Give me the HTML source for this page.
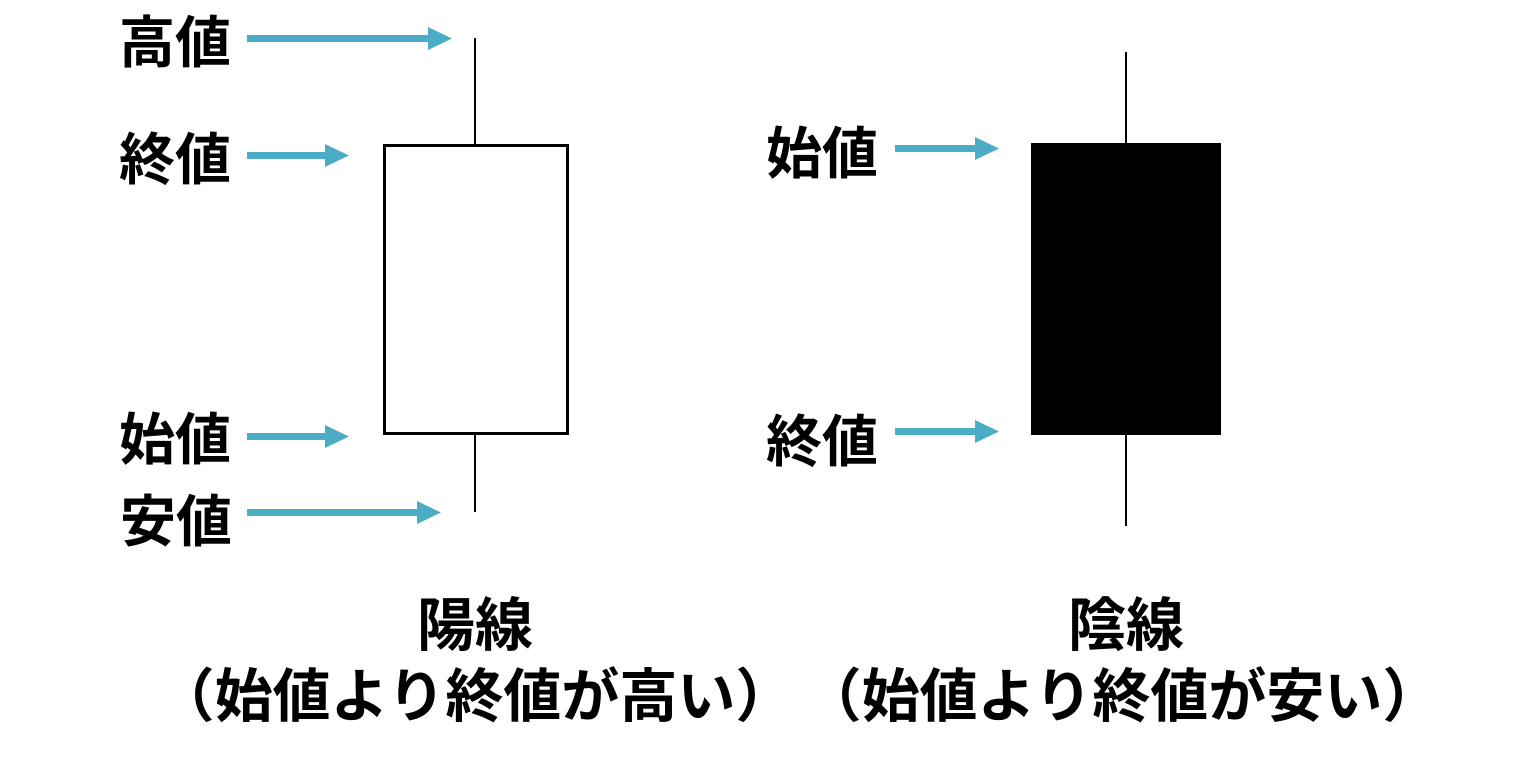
<!DOCTYPE html>
<html><head><meta charset="utf-8"><style>
html,body{margin:0;padding:0;background:#fff;}
svg{display:block;}
text{font-family:"Liberation Sans","Noto Sans CJK JP",sans-serif;font-weight:bold;fill:#000;}
</style></head><body>
<svg width="1536" height="766" viewBox="0 0 1536 766" xmlns="http://www.w3.org/2000/svg">
<line x1="475" y1="38" x2="475" y2="512" stroke="#000" stroke-width="2"/>
<rect x="384.5" y="145.5" width="183" height="288" fill="#fff" stroke="#000" stroke-width="3"/>
<line x1="1126" y1="52" x2="1126" y2="526" stroke="#000" stroke-width="2"/>
<rect x="1031" y="143" width="190" height="292" fill="#000"/>

<g fill="#4bacc6">
<rect x="247" y="35" width="183" height="7"/><polygon points="428,27 452,38.5 428,50"/>
<rect x="247" y="152" width="80" height="7"/><polygon points="325,144 349,155.5 325,167"/>
<rect x="247" y="433" width="80" height="7"/><polygon points="325,425 349,436.5 325,448"/>
<rect x="247" y="509" width="172" height="7"/><polygon points="417,501 441,512.5 417,524"/>
<rect x="895" y="145" width="82" height="7"/><polygon points="975,137 999,148.5 975,160"/>
<rect x="895" y="428" width="82" height="7"/><polygon points="975,420 999,431.5 975,443"/>
</g>

<g font-size="56" dominant-baseline="central">
<text x="119" y="43">高値</text>
<text x="119" y="160">終値</text>
<text x="119" y="440">始値</text>
<text x="120" y="522">安値</text>
<text x="766" y="154">始値</text>
<text x="766" y="442">終値</text>
</g>
<g font-size="58" text-anchor="middle" dominant-baseline="central">
<text x="475" y="626">陽線</text>
<text x="475" y="697">（始値より終値が高い）</text>
<text x="1126" y="626">陰線</text>
<text x="1122" y="697">（始値より終値が安い）</text>
</g>
</svg>
</body></html>
